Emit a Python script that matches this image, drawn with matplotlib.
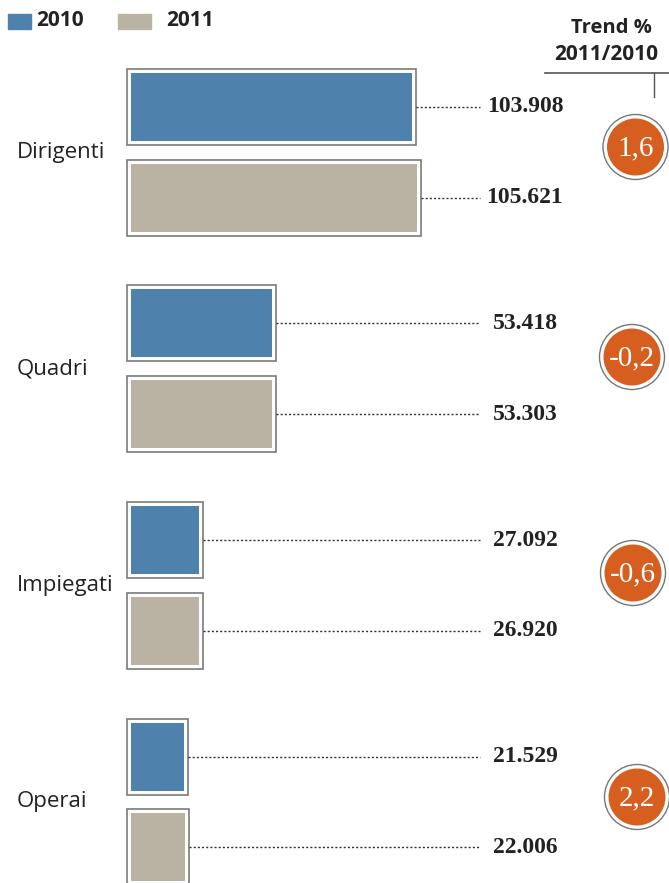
import matplotlib.pyplot as plt
from matplotlib.patches import Circle

categories = ['Dirigenti', 'Quadri', 'Impiegati', 'Operai']
values_2010 = [103908, 53418, 27092, 21529]
values_2011 = [105621, 53303, 26920, 22006]
trend = ['1,6', '-0,2', '-0,6', '2,2']
years = ['2010', '2011']

BLUE = '#4e81ab'
BEIGE = '#bab3a3'
ORANGE = '#d65f20'
W, H = 669, 883


def fmt(v):
    return f'{v:,}'.replace(',', '.')


fig = plt.figure(figsize=(W / 100, H / 100), dpi=100)

# bar axes: x in values (scale does not start at zero), y in group units
ax = fig.add_axes([0, 0, 1, 1])
upx = 1000 / 2.767            # value units per pixel
base = 2350                   # value at the bars' left edge
x0 = 131                      # pixel where bars start
ax.set_xlim(base - x0 * upx, base + (W - x0) * upx)
g0, gs = 152.5, 216.5
ax.set_ylim((H - g0) / gs, -g0 / gs)
ax.axis('off')


def px(p):
    return base + (p - x0) * upx


pad = 4 * upx
off = 45.5 / gs
fill_h = 68 / gs
frame_h = 76 / gs

for i, cat in enumerate(categories):
    for v, c, dy in [(values_2010[i], BLUE, -off), (values_2011[i], BEIGE, off)]:
        y = i + dy
        ax.barh(y, v - base + 2 * pad, left=base - pad, height=frame_h,
                color='white', edgecolor='#7a7a7a', linewidth=1.2)
        ax.barh(y, v - base, left=base, height=fill_h, color=c)
        ax.plot([v + pad, px(480)], [y, y], color='#333333', lw=1,
                ls=(0, (1.5, 1.5)))
        ax.text(px(525), y, fmt(v), ha='center', va='center', fontsize=17,
                fontweight='bold', family='Liberation Serif', color='#222222')
    ax.text(px(17), i, cat, ha='left', va='center', fontsize=16,
            family='Open Sans', color='#222222')

# overlay in pixel coords for legend, header and trend circles
ov = fig.add_axes([0, 0, 1, 1], facecolor='none')
ov.set_xlim(0, W)
ov.set_ylim(H, 0)
ov.axis('off')

for x, w, c, lab, tx in [(8, 23, BLUE, years[0], 36), (118, 33, BEIGE, years[1], 166)]:
    ov.add_patch(plt.Rectangle((x, 14), w, 15, color=c))
    ov.text(tx, 21, lab, ha='left', va='center', fontsize=15,
            fontweight='bold', family='Open Sans', color='#222222')

ov.text(611, 28, 'Trend %', ha='center', va='center', fontsize=14.5,
        fontweight='bold', family='Open Sans', color='#222222')
ov.text(606, 55, '2011/2010', ha='center', va='center', fontsize=15,
        fontweight='bold', family='Open Sans', color='#222222')
ov.plot([545, 669], [73, 73], color='#555555', lw=1.2)
ov.plot([654, 654], [73, 97], color='#555555', lw=1)

centers = [(635.5, 147), (632, 357), (633, 573), (637, 797)]
for (cx, cy), t in zip(centers, trend):
    ov.add_patch(Circle((cx, cy), 32.5, facecolor='white',
                        edgecolor='#777777', lw=1))
    ov.add_patch(Circle((cx, cy), 28.5, facecolor=ORANGE, edgecolor='none'))
    ov.text(cx, cy + 1, t, ha='center', va='center', fontsize=21,
            family='Liberation Serif', color='white')

fig.savefig('out.png', dpi=100)
